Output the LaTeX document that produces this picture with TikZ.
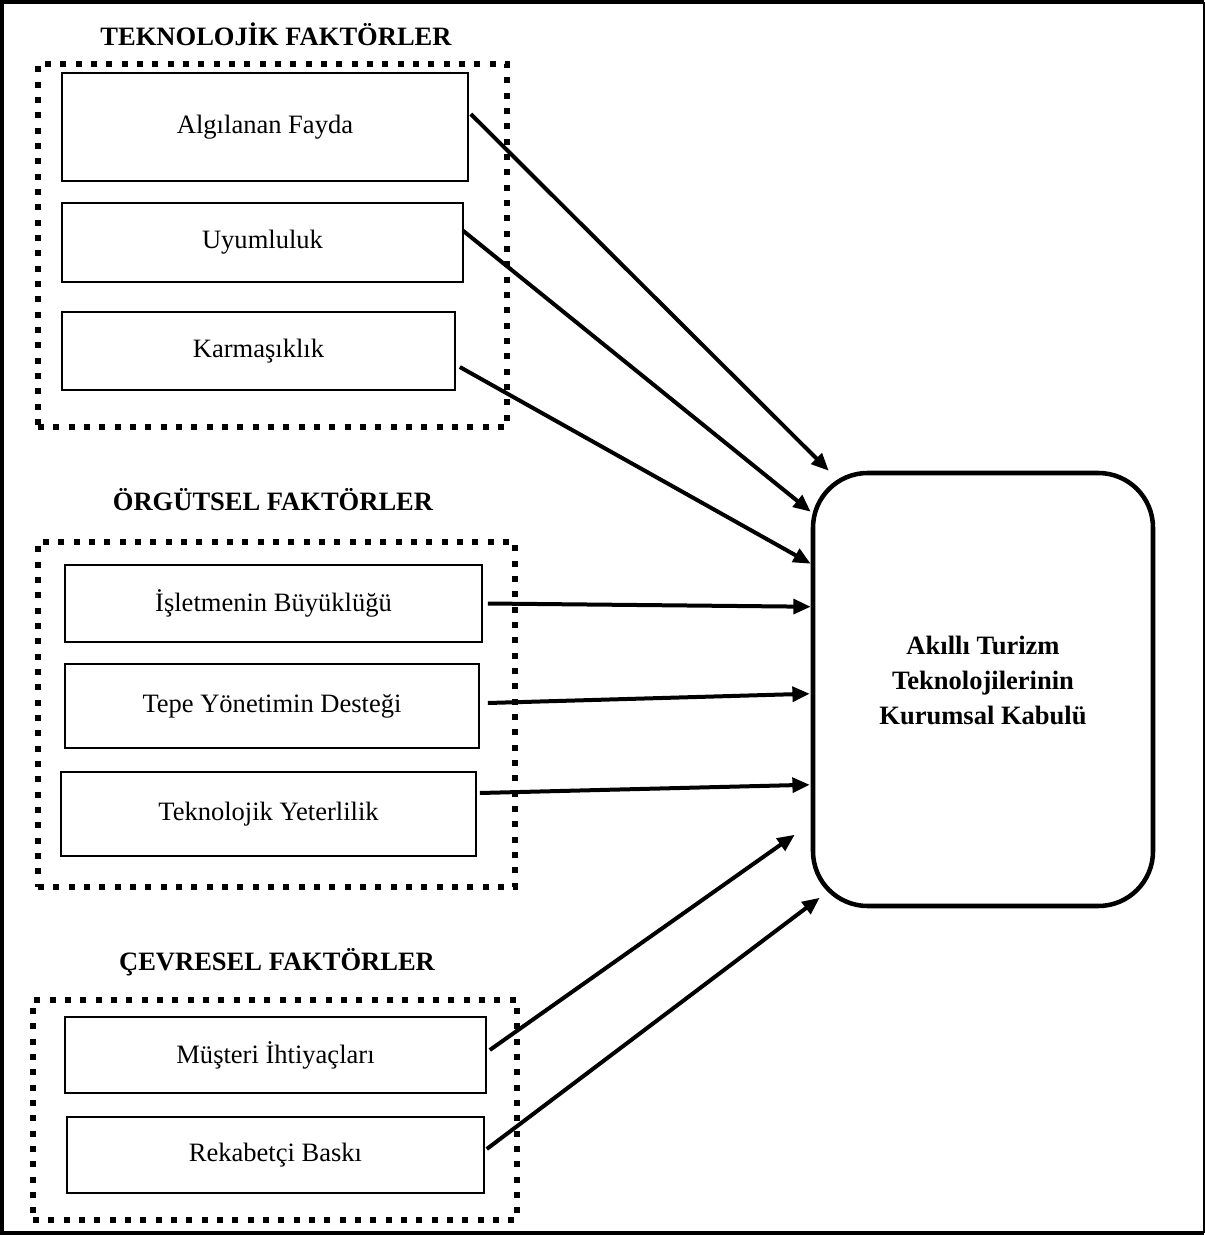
\documentclass[tikz,border=0pt]{standalone}
\usepackage{fontspec}
\setmainfont{Liberation Serif}
\usetikzlibrary{arrows.meta,fit,calc}
\tikzset{every picture/.style={line width=0.75pt}}
\tikzset{
  factorbox/.style={draw, line width=1.2pt, inner sep=0pt, font=\fontsize{19.9}{26.25}\selectfont},
  boxsize/.style 2 args={minimum width=#1*0.75pt, minimum height=#2*0.75pt},
  groupframe/.style={draw, line width=4.5pt, dash pattern=on 4.5pt off 7pt, inner sep=0pt},
  grouptitle/.style={inner sep=0.75pt, font=\fontsize{19.9}{26.25}\selectfont\bfseries},
  mainbox/.style={draw, line width=3.4pt, rounded corners=41pt, inner sep=0pt},
  effect/.style={line width=3pt, -{Triangle[length=13pt,width=11pt]}}
}

\begin{document}
\begin{tikzpicture}[x=0.75pt,y=0.75pt,yscale=-1,xscale=1]
\useasboundingbox (0,0) rectangle (1205,1235);

%Shape: Outer frame
\draw [line width=3pt] (1204,2) -- (2,2) -- (2,1233) -- (1204,1233) ;
\draw [line width=1.2pt] (1204,2) -- (1204,1233) ;

% Text Node
\node [grouptitle] (teknikbaslik) at (276,34) {TEKNOLOJİK FAKTÖRLER};
% Text Node
\node [grouptitle] (orgutbaslik) at (273,500) {ÖRGÜTSEL FAKTÖRLER};
% Text Node
\node [grouptitle] (cevrebaslik) at (277,962) {ÇEVRESEL FAKTÖRLER};

%Shape: Dotted frames
\node [groupframe, fit={(38,64) (507,427)}] (teknik) {};
\node [groupframe, fit={(38,542) (515,887)}] (orgut) {};
\node [groupframe, fit={(33,1000) (517,1220)}] (cevre) {};

%Shape: Factor boxes
\node [factorbox, boxsize={406}{108}] (fayda) at (265,127) {Algılanan Fayda};
\node [factorbox, boxsize={401}{79}] (uyum) at (262.5,242.5) {Uyumluluk};
\node [factorbox, boxsize={393}{78}] (karmasik) at (258.5,351) {Karmaşıklık};
\node [factorbox, boxsize={417}{77}] (buyukluk) at (273.5,603.5) {İşletmenin Büyüklüğü};
\node [factorbox, boxsize={414}{84}] (destek) at (272,706) {Tepe Yönetimin Desteği};
\node [factorbox, boxsize={415}{84}] (yeterlilik) at (268.5,814) {Teknolojik Yeterlilik};
\node [factorbox, boxsize={421}{76}] (ihtiyac) at (275.5,1055) {Müşteri İhtiyaçları};
\node [factorbox, boxsize={417}{76}] (rekabet) at (275.5,1155) {Rekabetçi Baskı};

%Shape: Rounded box
\node [mainbox, fit={(813,473) (1153,906)}] (kabul) {};
% Text Node
\node [grouptitle, align=center] (kabulmetin) at (983,680) {Akıllı Turizm\\Teknolojilerinin\\Kurumsal Kabulü};

%Straight Lines
\draw [effect] ($(fayda.east)+(2,-13)$) -- ($(kabul.north west)+(18,0)$) ;
\draw [effect] ($(uyum.east)+(-1,-12)$) -- ($(kabul.north west)+(0,41)$) ;
\draw [effect] ($(karmasik.east)+(4,16)$) -- ($(kabul.north west)+(0,93)$) ;
\draw [effect] ($(buyukluk.east)+(5,0)$) -- ($(kabul.north west)+(0,136)$) ;
\draw [effect] ($(destek.east)+(8,-3)$) -- ($(kabul.north west)+(-1,223)$) ;
\draw [effect] ($(yeterlilik.east)+(3,-21)$) -- ($(kabul.north west)+(-1,314)$) ;
\draw [effect] ($(ihtiyac.east)+(3,-5)$) -- ($(kabul.north west)+(-16,364)$) ;
\draw [effect] ($(rekabet.east)+(2,-6)$) -- ($(kabul.north west)+(9,427)$) ;

\end{tikzpicture}
\end{document}
